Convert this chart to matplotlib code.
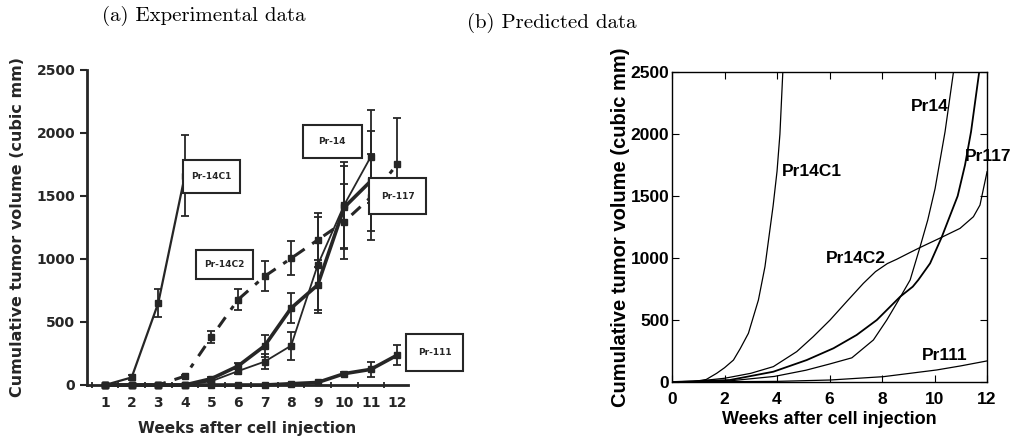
import matplotlib.pyplot as plt
from matplotlib.patches import Rectangle

# ---- (a) experimental data, weekly means and error bars ----
weeks = list(range(1, 13))
pr14c1 = [0, 60, 650, 1660]
pr14c1_err = [0, 20, 110, 320]
pr14c2 = [0, 0, 0, 70, 380, 677, 862, 1005, 1151, 1296, 1490, 1754]
pr14c2_err = [0, 0, 0, 10, 50, 85, 120, 135, 215, 300, 340, 362]
pr14 = [0, 0, 0, 0, 30, 110, 185, 312, 952, 1430, 1812]
pr14_err = [0, 0, 0, 0, 10, 20, 60, 110, 380, 340, 370]
pr117 = [0, 0, 0, 0, 50, 150, 310, 610, 794, 1410, 1619]
pr117_err = [0, 0, 0, 0, 10, 25, 90, 120, 200, 330, 400]
pr111 = [0, 0, 0, 0, 0, 0, 0, 10, 20, 90, 124, 238]
pr111_err = [0, 0, 0, 0, 0, 0, 0, 0, 0, 10, 60, 80]
labels_a = ['Pr-14C1', 'Pr-14', 'Pr-117', 'Pr-14C2', 'Pr-111']

# ---- (b) model curves ----
c1_t = [0, 0.81, 1.3, 1.70, 2.0, 2.34, 2.6, 2.91, 3.29, 3.54, 3.71, 3.85, 4.0, 4.11, 4.22]
c1_v = [0, 3, 20, 70, 115, 177, 270, 393, 661, 930, 1199, 1420, 1700, 2000, 2500]
c2_t = [0, 1, 2, 3, 3.86, 4.75, 5.38, 6.02, 6.65, 7.29, 7.75, 8.2, 8.56, 9.07, 9.45,
        10.27, 10.97, 11.48, 11.73, 12.0]
c2_v = [0, 8, 30, 70, 124, 245, 366, 500, 648, 796, 890, 955, 990, 1045, 1085,
        1167, 1239, 1333, 1427, 1696]
p14_t = [0, 2, 3.9, 5.1, 6.0, 6.85, 7.67, 8.18, 8.6, 9.07, 9.45, 9.74, 10.02,
         10.4, 10.72]
p14_v = [0, 5, 45, 95, 145, 195, 339, 500, 650, 823, 1091, 1306, 1560, 2019, 2500]
p117_t = [0, 2.2, 3.86, 5.13, 6.15, 7.03, 7.8, 8.69, 9.17, 9.38, 9.83, 10.27,
          10.55, 10.88, 11.16, 11.39, 11.7]
p117_v = [0, 16, 83, 177, 272, 379, 500, 688, 769, 823, 957, 1167, 1320, 1500,
          1750, 2019, 2500]
p111_t = [0, 3.99, 6.02, 8.05, 10.08, 11, 12]
p111_v = [0, 5, 16, 43, 97, 130, 170]
labels_b = ['Pr14C1', 'Pr14', 'Pr117', 'Pr14C2', 'Pr111']

fig = plt.figure(figsize=(10.13, 4.46), dpi=100)

# titles in a TeX-like serif
fig.text(0.2015, 0.952, '(a) Experimental data', family='cmr10', fontsize=15,
         ha='center', va='baseline')
fig.text(0.545, 0.937, '(b) Predicted data', family='cmr10', fontsize=15,
         ha='center', va='baseline')

# ---------------- panel (a) ----------------
ink = '#262626'
ax = fig.add_axes([0.0859, 0.1368, 0.3169, 0.7063])
ax.set_xlim(0.32, 12.4)
ax.set_ylim(0, 2500)
for s in ['top', 'right']:
    ax.spines[s].set_visible(False)
for s in ['left', 'bottom']:
    ax.spines[s].set_linewidth(2)
    ax.spines[s].set_color(ink)

eb = dict(color=ink, capsize=3, elinewidth=1.3, capthick=1.3, clip_on=False,
          marker='s', markersize=4)
ax.errorbar(weeks[:4], pr14c1, yerr=pr14c1_err, lw=1.6, **eb)
ax.errorbar(weeks, pr14c2, yerr=pr14c2_err, lw=2.2, ls=(0, (4, 3, 1.5, 3)), **eb)
ax.errorbar(weeks[:11], pr14, yerr=pr14_err, lw=1.3, **eb)
ax.errorbar(weeks[:11], pr117, yerr=pr117_err, lw=2.6, **eb)
ax.errorbar(weeks, pr111, yerr=pr111_err, lw=2.6, **eb)

ax.set_yticks(range(0, 2501, 500))
ax.set_xticks(weeks)
ax.set_xticks([w + 0.5 for w in range(0, 12)], minor=True)
ax.tick_params(axis='y', direction='out', length=5, width=1.5, color=ink,
               labelsize=10, labelcolor=ink)
ax.tick_params(axis='x', which='major', length=0, labelsize=10, labelcolor=ink, pad=8)
ax.tick_params(axis='x', which='minor', direction='inout', length=5, width=1.3, color=ink)
for lab in ax.get_xticklabels() + ax.get_yticklabels():
    lab.set_fontweight('bold')
ax.set_xlabel('Weeks after cell injection', fontsize=11, fontweight='bold',
              color=ink, labelpad=8)
ax.set_ylabel('Cumulative tumor volume (cubic mm)', fontsize=11.5,
              fontweight='bold', color=ink, labelpad=8)

# boxed labels (x0, y0, width, height in data units)
boxes = [(3.93, 1524, 2.15, 262), (8.43, 1799, 2.22, 264), (10.94, 1357, 2.15, 283),
         (4.42, 841, 2.14, 230), (12.34, 113, 2.11, 292)]
for (x0, y0, w, h), name in zip(boxes, labels_a):
    ax.add_patch(Rectangle((x0, y0), w, h, facecolor='white', edgecolor=ink,
                           lw=1.5, clip_on=False, zorder=5))
    ax.text(x0 + w / 2, y0 + h / 2, name, ha='center', va='center', fontsize=6.5,
            fontweight='bold', color=ink, zorder=6, clip_on=False)

# ---------------- panel (b) ----------------
bx = fig.add_axes([0.6634, 0.1435, 0.311, 0.695])
for t, v, w in [(c1_t, c1_v, 0.9), (c2_t, c2_v, 0.9), (p14_t, p14_v, 0.9),
                (p117_t, p117_v, 1.3), (p111_t, p111_v, 0.9)]:
    bx.plot(t, v, color='black', lw=w)
bx.set_xlim(0, 12)
bx.set_ylim(0, 2500)
bx.set_xticks(range(0, 13, 2))
bx.set_yticks(range(0, 2501, 500))
bx.tick_params(direction='in', top=True, right=True, length=5, width=0.8,
               labelsize=12.5)
bx.tick_params(axis='x', pad=7)
bx.tick_params(axis='y', pad=2)
for lab in bx.get_xticklabels() + bx.get_yticklabels():
    lab.set_fontweight('bold')
    lab.set_family('Liberation Sans')
for s in bx.spines.values():
    s.set_linewidth(1.0)
bx.set_xlabel('Weeks after cell injection', fontsize=13, fontweight='bold',
              family='Liberation Sans', labelpad=3)
bx.set_ylabel('Cumulative tumor volume (cubic mm)', fontsize=14.5,
              fontweight='bold', family='Liberation Sans', labelpad=0)

label_pos = [(4.19, 1694), (9.09, 2220), (11.16, 1817), (5.87, 994), (9.51, 211)]
for (x, y), name in zip(label_pos, labels_b):
    bx.text(x, y, name, fontsize=12.5, fontweight='bold', family='Liberation Sans',
            va='center', ha='left', clip_on=False)

fig.savefig('out.png', dpi=100)
